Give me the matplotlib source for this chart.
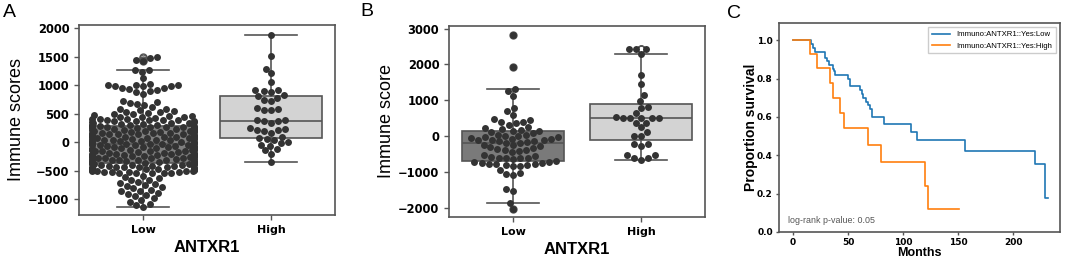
import matplotlib
matplotlib.use("Agg")
import matplotlib.pyplot as plt
import pandas as pd
import seaborn as sns

# Panel A: immune scores by ANTXR1 group
low_a_upper = [1500, 1480, 1450, 1430, 1270, 1260, 1240, 1120, 1030, 1005, 1000, 995, 990,
               985, 1000, 960, 945, 935, 910, 895, 880, 850, 720, 705, 690, 670, 660, 620,
               590, 580, 560, 545, 540, 530, 520, 500, 490, 480, 470, 460, 450, 445, 440,
               430]
low_a_core = [415, 402, 395, 388, 380, 371, 366, 392, 408, 384,
              348, 337, 329, 318, 312, 305, 352, 341, 344,
              298, 291, 284, 276, 266, 259, 251, 293, 271, 262, 287,
              245, 236, 228, 221, 213, 208, 202, 248, 226,
              198, 191, 183, 174, 166, 160, 152, 195, 171, 158, 187,
              148, 139, 131, 125, 117, 110, 103, 144, 121,
              98, 91, 82, 76, 69, 61, 53, 95, 71, 57, 86,
              47, 41, 33, 26, 17, 11, 3, 44, 21,
              -2, -11, -17, -26, -33, -39, -48, -6, -29, -43, -22,
              -52, -61, -67, -74, -83, -89, -97, -56, -78,
              -103, -109, -118, -126, -131, -141, -147, -106, -128, -143, -122,
              -153, -161, -167, -176, -183, -189, -197, -156, -179,
              -201, -211, -217, -224, -233, -239, -247, -206, -228, -243, -219,
              -252, -261, -268, -274, -281, -291, -298, -256, -278, -294,
              -303, -309, -318, -326, -333, -341, -347, -306, -329,
              -351, -362, -368, -376, -381, -389, -397, -356, -378, -393, -372,
              -402, -411, -417, -425, -434, -441, -447, -407, -428, -444,
              -453, -459, -468, -476, -482, -491, -497, -456, -479, -493, -471,
              -503, -509, -518, -524, -531, -539, -547, -506, -528, -543, -515, -535]
low_a_lower = [-585, -610, -632, -655, -668, -690, -712, -731, -748, -766, -779, -805, -828,
               -846, -862, -884, -905, -921, -948, -980, -1012, -1045, -1078, -1105, -1130]
high_a = [1890, 1510, 1290, 1210, 1060, 920, 910, 900, 880, 830, 810, 780, 740, 720, 600,
          590, 570, 560, 400, 390, 380, 370, 330, 250, 230, 220, 210, 200, 160, 100, 80,
          60, 40, 10, -20, -40, -60, -120, -140, -200, -340]

# Panel B: immune score by ANTXR1 group
low_b_upper = [2820, 1930, 1310, 1250, 1110, 780, 690, 590, 470, 450, 400, 380, 370, 300,
               260, 220, 190, 180, 150]
low_b_mid = [140, 120, 80, 40, 30, 10, 0, -20, -40, -60, -70, -90, -100, -110, -120, -130,
             -150, -170, -190, -200, -240, -260, -280, -300, -330, -360, -380, -400, -420, -450]
low_b_lower = [-540, -560, -580, -600, -605, -610, -620, -640,
               -700, -715, -730, -745, -760, -770, -780, -790, -800, -815, -830, -840,
               -960, -1030, -1060, -1100, -1470, -1540, -1880, -2050]
high_b = [2420, 2420, 2420, 2278, 1710, 1450, 1140, 980, 800, 790, 637, 525, 500, 500, 500,
          500, 500, 375, 375, 244, 103, 10, 10, -234, -234, -280, -534, -534, -600, -600, -656]

# Panel C: Kaplan-Meier steps
low_km_months = [0, 16, 18, 20, 29, 31, 33, 36, 37, 38, 50, 52, 61, 63, 64, 66, 68, 70, 72,
                 83, 107, 113, 156, 220, 229, 232]
low_km_surv = [1.0, 0.98, 0.96, 0.937, 0.905, 0.89, 0.87, 0.85, 0.84, 0.82, 0.80, 0.763,
               0.74, 0.72, 0.70, 0.68, 0.66, 0.64, 0.60, 0.563, 0.52, 0.48, 0.424, 0.357,
               0.177, 0.177]
high_km_months = [0, 15, 22, 34, 36, 43, 46, 68, 80, 120, 123, 151]
high_km_surv = [1.0, 0.93, 0.856, 0.777, 0.70, 0.62, 0.544, 0.454, 0.363, 0.238, 0.12, 0.12]

groups = ["Low", "High"]
EDGE = "#555555"
ARIAL = ["Liberation Sans", "DejaVu Sans"]


def style_spines(ax, tick_len=3.5):
    for sp in ax.spines.values():
        sp.set_edgecolor(EDGE)
        sp.set_linewidth(1.2)
    ax.tick_params(direction="out", length=tick_len, width=1, color=EDGE)


def box_swarm(ax, low, high, low_color, ylim, yticks, ylabel):
    ax.set_ylim(*ylim)
    ax.boxplot([low, high], positions=[0, 1], widths=0.8, patch_artist=True,
               manage_ticks=False, zorder=1,
               boxprops=dict(edgecolor=EDGE, linewidth=1.2),
               medianprops=dict(color=EDGE, linewidth=1.2),
               whiskerprops=dict(color=EDGE, linewidth=1.2),
               capprops=dict(color=EDGE, linewidth=1.2),
               flierprops=dict(marker="o", markerfacecolor="none", markeredgecolor=EDGE,
                               markersize=5))
    for patch, c in zip(ax.patches, [low_color, "#d3d3d3"]):
        patch.set_facecolor(c)
    df = pd.DataFrame({"group": ["Low"] * len(low) + ["High"] * len(high),
                       "score": list(low) + list(high)})
    sns.swarmplot(data=df, x="group", y="score", order=groups, color="#333333",
                  size=5, linewidth=0, ax=ax, zorder=3)
    ax.set_xlim(-0.5, 1.5)
    ax.set_ylim(*ylim)
    ax.set_xticks([0, 1], labels=groups, fontweight="bold", fontsize=8)
    ax.set_yticks(yticks, labels=[str(v).replace("-", "\u2212") for v in yticks],
                  fontweight="bold", fontsize=8.3)
    ax.set_xlabel("ANTXR1", fontsize=12, fontweight="bold", family=ARIAL, labelpad=3.5)
    ax.set_ylabel(ylabel, fontsize=13, family=ARIAL, labelpad=2)
    style_spines(ax)


fig = plt.figure(figsize=(10.65, 2.6), dpi=100)

ax_a = fig.add_axes([0.0742, 0.1731, 0.2404, 0.7308])
box_swarm(ax_a, low_a_upper + low_a_core + low_a_lower, high_a, "#808080",
          (-1275, 2058), [-1000, -500, 0, 500, 1000, 1500, 2000], "Immune scores")

ax_b = fig.add_axes([0.4216, 0.1654, 0.2404, 0.7346])
box_swarm(ax_b, low_b_upper + low_b_mid + low_b_lower, high_b, "#7a7a7a",
          (-2260, 3070), [-2000, -1000, 0, 1000, 2000, 3000], "Immune score")

ax_c = fig.add_axes([0.7315, 0.1077, 0.2638, 0.8038])
ax_c.step(low_km_months, low_km_surv, where="post", color="#1f77b4", lw=1.2,
          label="Immuno:ANTXR1::Yes:Low")
ax_c.step(high_km_months, high_km_surv, where="post", color="#ff7f0e", lw=1.2,
          label="Immuno:ANTXR1::Yes:High")
ax_c.set_xlim(-12.7, 242.7)
ax_c.set_ylim(0, 1.09)
ax_c.set_xticks([0, 50, 100, 150, 200], labels=["0", "50", "100", "150", "200"],
                fontweight="bold", fontsize=6.5)
ax_c.set_yticks([0, 0.2, 0.4, 0.6, 0.8, 1.0],
                labels=["0.0", "0.2", "0.4", "0.6", "0.8", "1.0"],
                fontweight="bold", fontsize=6.5)
ax_c.set_xlabel("Months", fontsize=9, fontweight="bold", family=ARIAL)
ax_c.xaxis.set_label_coords(0.5, -0.072)
ax_c.set_ylabel("Proportion survival", fontsize=10, fontweight="bold", family=ARIAL,
                labelpad=-1)
ax_c.legend(loc="upper right", prop=dict(family=ARIAL, size=5.6), handlelength=2.3,
            borderpad=0.5, framealpha=1, edgecolor="#cccccc", fancybox=False)
ax_c.text(0.032, 0.053, "log-rank p-value: 0.05", transform=ax_c.transAxes,
          fontsize=6.4, family=ARIAL, color="#555555", va="center")
style_spines(ax_c, tick_len=2.5)
ax_c.tick_params(pad=2)

fig.text(0.003, 0.985, "A", fontsize=14, family=ARIAL, va="top")
fig.text(0.338, 0.99, "B", fontsize=14, family=ARIAL, va="top")
fig.text(0.683, 0.98, "C", fontsize=14, family=ARIAL, va="top")

fig.savefig("out.png", dpi=100)
